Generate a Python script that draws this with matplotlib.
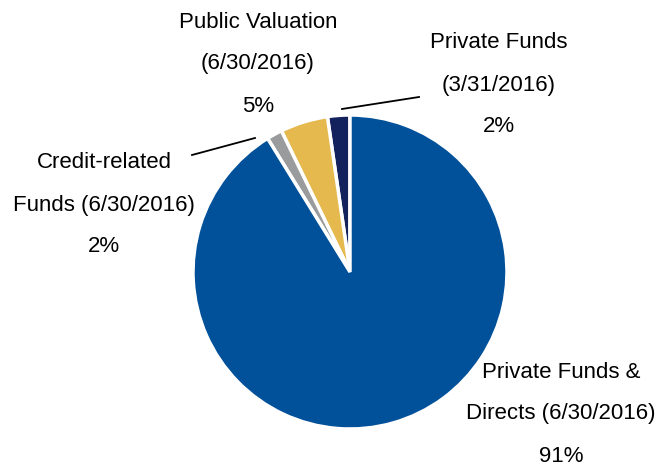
import matplotlib
matplotlib.use("Agg")
import matplotlib.pyplot as plt

# Data (counter-clockwise from 12 o'clock)
categories = ["Private Funds (3/31/2016)", "Public Valuation (6/30/2016)",
              "Credit-related Funds (6/30/2016)", "Private Funds & Directs (6/30/2016)"]
shares = [2.3, 4.9, 1.6, 91.2]
colors = ["#13215C", "#E5B94E", "#9A9B9D", "#00509A"]
label_lines = [
    ["Private Funds", "(3/31/2016)"],
    ["Public Valuation", "(6/30/2016)"],
    ["Credit-related", "Funds (6/30/2016)"],
    ["Private Funds &", "Directs (6/30/2016)"],
]

W, H = 658, 470
fig = plt.figure(figsize=(W / 100, H / 100), dpi=100)
ax = fig.add_axes([0, 0, 1, 1])

cx, cy, r = 350, H - 272, 157
ax.pie(shares, colors=colors, startangle=90, counterclock=True,
       center=(cx, cy), radius=r, frame=True,
       wedgeprops=dict(edgecolor="white", linewidth=2.5))
ax.set_xlim(0, W)
ax.set_ylim(0, H)
ax.set_aspect("equal")
ax.axis("off")

font = dict(family=["Liberation Sans", "DejaVu Sans"], fontsize=16, color="black",
            ha="center", va="center")
# label anchor positions (pixel coords, top-left origin), line spacing in px
label_pos = [(499, 43), (258, 22), (104, 163), (561, 372)]
step = 42
for lines, share, (x, y) in zip(label_lines, shares, label_pos):
    texts = lines + [f"{share:.0f}%"]
    for i, t in enumerate(texts):
        ax.text(x, H - (y + i * step), t, **font)

# leader lines
ax.plot([342, 419], [H - 109, H - 97], color="black", lw=1.3)
ax.plot([192, 255], [H - 155, H - 138], color="black", lw=1.3)

fig.savefig("out.png", dpi=100)
